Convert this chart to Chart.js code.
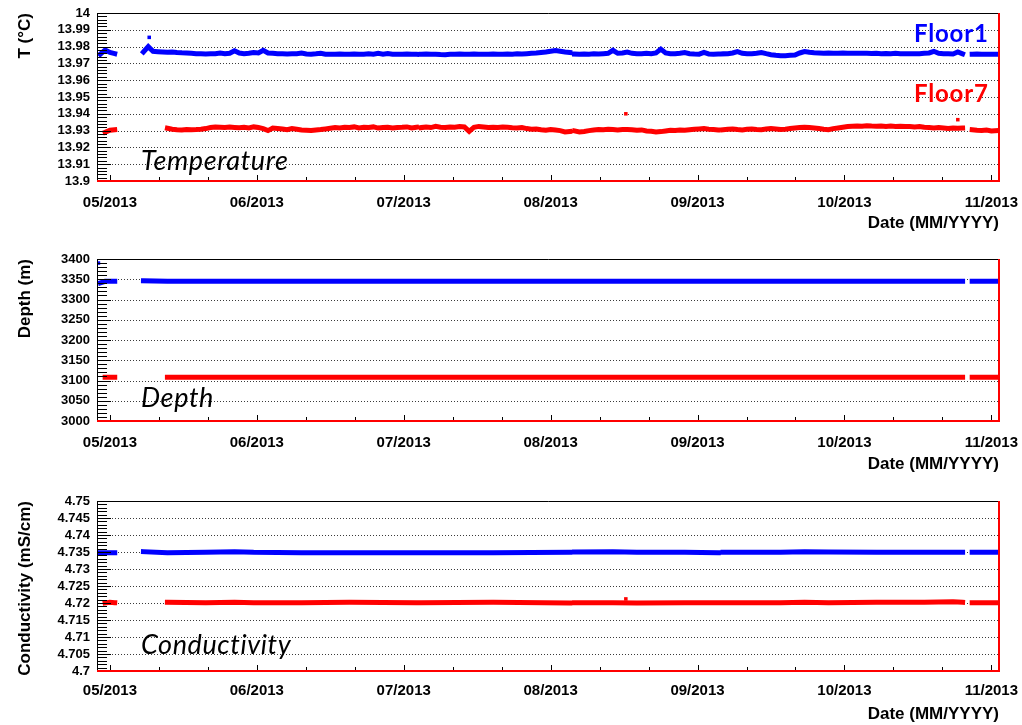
<!DOCTYPE html>
<html>
<head>
<meta charset="utf-8">
<script src="https://cdn.jsdelivr.net/npm/chart.js@4.4.0/dist/chart.umd.min.js"></script>
<style>
  body { margin: 0; background: #fff; width: 1022px; height: 725px; overflow: hidden; position: relative; }
  canvas { position: absolute; left: 0; }
</style>
</head>
<body>
<canvas id="cTemp" width="1022" height="240" style="top:0px"></canvas>
<canvas id="cDepth" width="1022" height="240" style="top:240px"></canvas>
<canvas id="cCond" width="1022" height="250" style="top:480px"></canvas>
<script>
// x axis: days counted from 1 May 2013, ROOT puts ticks at equal steps
var monthDays = [0, 30.667, 61.333, 92, 122.667, 153.333, 184];
var monthLabels = ['05/2013', '06/2013', '07/2013', '08/2013', '09/2013', '10/2013', '11/2013'];

// temperature, one value per day from day -2 to day 185
var tempFloor1 = [
  13.9755, 13.9780, 13.9765, 13.9758, null, null, null, null, null, 13.9768,
  13.9800, 13.9772, 13.9770, 13.9768, 13.9766, 13.9768, 13.9765, 13.9763, 13.9762, 13.9760,
  13.9758, 13.9757, 13.9756, 13.9757, 13.9758, 13.9762, 13.9757, 13.9760, 13.9775, 13.9762,
  13.9758, 13.9760, 13.9765, 13.9762, 13.9778, 13.9762, 13.9760, 13.9758, 13.9757, 13.9756,
  13.9757, 13.9758, 13.9762, 13.9756, 13.9755, 13.9757, 13.9760, 13.9755, 13.9754, 13.9755,
  13.9756, 13.9755, 13.9754, 13.9756, 13.9755, 13.9755, 13.9757, 13.9755, 13.9760, 13.9755,
  13.9759, 13.9755, 13.9754, 13.9755, 13.9756, 13.9755, 13.9754, 13.9755, 13.9756, 13.9754,
  13.9755, 13.9753, 13.9752, 13.9754, 13.9755, 13.9756, 13.9754, 13.9755, 13.9756, 13.9755,
  13.9754, 13.9755, 13.9756, 13.9755, 13.9754, 13.9756, 13.9755, 13.9757, 13.9756, 13.9758,
  13.9760, 13.9762, 13.9765, 13.9768, 13.9772, 13.9776, 13.9772, 13.9768, 13.9765, 13.9756,
  13.9755, 13.9756, 13.9755, 13.9757, 13.9756, 13.9758, 13.9760, 13.9778, 13.9760, 13.9762,
  13.9768, 13.9760, 13.9758, 13.9757, 13.9760, 13.9758, 13.9762, 13.9785, 13.9762, 13.9758,
  13.9757, 13.9760, 13.9765, 13.9758, 13.9756, 13.9755, 13.9765, 13.9756, 13.9755, 13.9756,
  13.9757, 13.9758, 13.9762, 13.9770, 13.9760, 13.9757, 13.9758, 13.9760, 13.9765, 13.9758,
  13.9752, 13.9748, 13.9745, 13.9746, 13.9748, 13.9750, 13.9762, 13.9770, 13.9766, 13.9763,
  13.9762, 13.9761, 13.9762, 13.9760, 13.9761, 13.9762, 13.9760, 13.9761, 13.9760, 13.9761,
  13.9760, 13.9759, 13.9760, 13.9758, 13.9759, 13.9758, 13.9760, 13.9758, 13.9757, 13.9758,
  13.9757, 13.9758, 13.9760, 13.9762, 13.9772, 13.9760, 13.9757, 13.9758, 13.9756, 13.9768,
  13.9757, null, 13.9755, 13.9756, 13.9755, 13.9754, 13.9755, 13.9755
];
var tempFloor7 = [
  null, 13.9290, 13.9302, 13.9305, null, null, null, null, null, null,
  null, null, null, null, 13.9314, 13.9308, 13.9305, 13.9304, 13.9306, 13.9305,
  13.9306, 13.9308, 13.9312, 13.9318, 13.9322, 13.9320, 13.9318, 13.9321, 13.9319, 13.9317,
  13.9320, 13.9316, 13.9322, 13.9318, 13.9312, 13.9300, 13.9315, 13.9313, 13.9310, 13.9305,
  13.9312, 13.9308, 13.9304, 13.9302, 13.9300, 13.9304, 13.9306, 13.9310, 13.9314, 13.9318,
  13.9315, 13.9320, 13.9318, 13.9322, 13.9316, 13.9320, 13.9318, 13.9322, 13.9315, 13.9318,
  13.9320, 13.9316, 13.9319, 13.9320, 13.9322, 13.9316, 13.9320, 13.9318, 13.9322, 13.9318,
  13.9325, 13.9320, 13.9318, 13.9322, 13.9320, 13.9324, 13.9322, 13.9295, 13.9320, 13.9325,
  13.9322, 13.9318, 13.9320, 13.9318, 13.9322, 13.9320, 13.9317, 13.9315, 13.9318, 13.9312,
  13.9308, 13.9310, 13.9305, 13.9302, 13.9306, 13.9303, 13.9300, 13.9292, 13.9295, 13.9298,
  13.9292, 13.9295, 13.9300, 13.9304, 13.9306, 13.9305, 13.9308, 13.9306, 13.9304, 13.9307,
  13.9306, 13.9305, 13.9302, 13.9304, 13.9298, 13.9296, 13.9292, 13.9294, 13.9298, 13.9302,
  13.9300, 13.9304, 13.9302, 13.9305, 13.9308, 13.9310, 13.9312, 13.9308, 13.9306, 13.9304,
  13.9305, 13.9308, 13.9310, 13.9306, 13.9304, 13.9308, 13.9310, 13.9307, 13.9305, 13.9309,
  13.9312, 13.9310, 13.9306, 13.9308, 13.9312, 13.9315, 13.9318, 13.9320, 13.9318, 13.9315,
  13.9312, 13.9308, 13.9305, 13.9312, 13.9316, 13.9320, 13.9324, 13.9326, 13.9328, 13.9326,
  13.9329, 13.9327, 13.9326, 13.9328, 13.9325, 13.9327, 13.9325, 13.9326, 13.9324, 13.9325,
  13.9322, 13.9324, 13.9320, 13.9318, 13.9316, 13.9318, 13.9315, 13.9312, 13.9316, 13.9314,
  13.9315, null, 13.9305, 13.9302, 13.9300, 13.9303, 13.9298, 13.9300
];
var tempFirstDay = -2;
var tempBreaks = [64.5, 96.5, 127.5];
var tempOutDays1 = [8.2];
var tempOut1 = [13.9855];
var tempOutDays7 = [107.7, 177];
var tempOut7 = [13.9400, 13.9365];

// depth
var depthDays = [-2, -1, 0, 1, 4, 7, 12, 30, 50, 64, 64.5, 65, 80, 96, 96.5, 97, 110, 127, 127.5, 128, 150, 178, 179, 180, 185];
var depthFloor1 = [3341, 3345, 3345, 3345, null, 3346, 3345, 3345, 3345, 3345, null, 3345, 3345, 3345, null, 3345, 3345, 3345, null, 3345, 3345, 3345, null, 3345, 3345];
var depthFloor7 = [null, 3108, 3108, 3108, null, null, 3108, 3108, 3108, 3108, null, 3108, 3108, 3108, null, 3108, 3108, 3108, null, 3108, 3108, 3108, null, 3108, 3108];
var depthOutDays1 = [-2.4];
var depthOut1 = [3390];

// conductivity
var condDays = [-2, -1, 0, 1, 4, 7, 12, 20, 26, 30, 40, 50, 64, 64.5, 65, 80, 96, 96.5, 97, 105,
  110, 120, 127, 127.5, 128, 140, 145, 150, 160, 170, 176, 178, 179, 180, 185];
var condFloor1 = [4.7348, 4.7348, 4.7348, 4.7348, null, 4.7351, 4.7348, 4.7349, 4.7351, 4.7349,
  4.7348, 4.7348, 4.7348, null, 4.7348, 4.7348, 4.7349, null, 4.7350, 4.7351,
  4.7349, 4.7349, 4.7348, null, 4.7349, 4.7349, 4.7351, 4.7350, 4.7349, 4.7349,
  4.7349, 4.7349, null, 4.7349, 4.7349];
var condFloor7 = [null, 4.7200, 4.7202, 4.7201, null, null, 4.7202, 4.7201, 4.7202, 4.7201,
  4.7201, 4.7202, 4.7201, null, 4.7201, 4.7202, 4.7200, null, 4.7201, 4.7201,
  4.7200, 4.7201, 4.7201, null, 4.7201, 4.7201, 4.7202, 4.7201, 4.7202, 4.7202,
  4.7204, 4.7202, null, 4.7201, 4.7201];
var condOutDays7 = [107.7];
var condOut7 = [4.7212];

Chart.defaults.font.family = "'Liberation Sans', Arial, sans-serif";
Chart.defaults.color = '#000';

function daily(vals, first, breaks) {
  var pts = [];
  for (var i = 0; i < vals.length; i++) {
    var d = first + i;
    pts.push({ x: d, y: vals[i] });
    if (breaks.indexOf(d + 0.5) >= 0) pts.push({ x: d + 0.5, y: null });
  }
  return pts;
}
function pairs(xs, ys) {
  return xs.map(function (x, i) { return { x: x, y: ys[i] }; });
}

// ROOT style frame: dotted grid, inner ticks, coloured frame, inner labels
var rootFrame = {
  id: 'rootFrame',
  beforeDatasetsDraw: function (chart, args, o) {
    var ctx = chart.ctx, a = chart.chartArea, y = chart.scales.y;
    ctx.save();
    ctx.strokeStyle = '#3a3a3a';
    ctx.lineWidth = 1;
    ctx.setLineDash([1, 2]);
    y.ticks.forEach(function (t) {
      if (t.value <= y.min + 1e-9 || t.value >= y.max - 1e-9) return;
      var py = Math.round(y.getPixelForValue(t.value)) + 0.5;
      ctx.beginPath(); ctx.moveTo(a.left, py); ctx.lineTo(a.right, py); ctx.stroke();
    });
    ctx.restore();
  },
  afterDatasetsDraw: function (chart, args, o) {
    var ctx = chart.ctx, a = chart.chartArea, x = chart.scales.x, y = chart.scales.y;
    ctx.save();
    ctx.strokeStyle = '#000';
    ctx.lineWidth = 1;
    var n = Math.round((y.max - y.min) / o.minorY);
    for (var k = 0; k <= n; k++) {
      var py = Math.round(y.getPixelForValue(y.min + k * o.minorY)) + 0.5;
      var len = (k % 5 === 0) ? 14 : 10;
      ctx.beginPath(); ctx.moveTo(a.left, py); ctx.lineTo(a.left + len, py); ctx.stroke();
    }
    var step = (monthDays[1] - monthDays[0]) / 3;
    for (var j = 0; j <= 18; j++) {
      var v = monthDays[0] + j * step;
      if (v > x.max) break;
      var px = Math.round(x.getPixelForValue(v)) + 0.5;
      var l = (j % 3 === 0) ? 6 : 4;
      ctx.beginPath(); ctx.moveTo(px, a.bottom); ctx.lineTo(px, a.bottom - l); ctx.stroke();
    }
    // frame
    ctx.beginPath(); ctx.moveTo(a.left + 0.5, a.bottom); ctx.lineTo(a.left + 0.5, a.top + 0.5); ctx.lineTo(a.right, a.top + 0.5); ctx.stroke();
    ctx.strokeStyle = '#ff0000';
    ctx.lineWidth = 2;
    ctx.beginPath(); ctx.moveTo(a.right, a.top); ctx.lineTo(a.right, a.bottom); ctx.lineTo(a.left, a.bottom); ctx.stroke();
    // label inside the pad
    ctx.fillStyle = '#000';
    ctx.font = 'italic 27px Lato';
    ctx.letterSpacing = '0.6px';
    ctx.textBaseline = 'alphabetic';
    ctx.textAlign = 'left';
    ctx.fillText(o.label, a.left + 44, a.bottom - o.labelDrop);
    if (o.floors) {
      ctx.font = 'bold 24px Lato';
      ctx.letterSpacing = '0.8px';
      ctx.fillStyle = '#0000ff';
      ctx.fillText('Floor1', a.right - 85, a.top + 29);
      ctx.fillStyle = '#ff0000';
      ctx.fillText('Floor7', a.right - 85, a.top + 89);
    }
    ctx.restore();
  }
};

function lineSet(pts, color) {
  return { data: pts, borderColor: color, backgroundColor: color, borderWidth: 5, pointRadius: 0,
    spanGaps: false, tension: 0, borderCapStyle: 'square', borderJoinStyle: 'miter' };
}
function dotSet(pts, color) {
  return { data: pts, borderColor: color, backgroundColor: color, showLine: false,
    pointStyle: 'rect', pointRadius: 2.5, borderWidth: 0 };
}

function makePanel(id, p) {
  return new Chart(document.getElementById(id), {
    type: 'line',
    data: { datasets: p.sets },
    options: {
      responsive: false,
      animation: false,
      devicePixelRatio: 1,
      layout: { padding: { top: p.top, right: 23, left: 0, bottom: 0 } },
      plugins: {
        legend: { display: false },
        tooltip: { enabled: false },
        rootFrame: { minorY: p.minor, label: p.label, labelDrop: p.labelDrop, floors: p.floors }
      },
      scales: {
        x: {
          type: 'linear', min: -2.7, max: 185.6,
          afterBuildTicks: function (s) { s.ticks = monthDays.map(function (v) { return { value: v }; }); },
          afterFit: function (s) { s.height = 59; s.paddingLeft = 0; s.paddingRight = 0; },
          grid: { display: false, drawTicks: false },
          border: { display: false },
          ticks: { autoSkip: false, maxRotation: 0, padding: p.tickPad,
            font: { size: 15, weight: 'bold' },
            callback: function (v, i) { return monthLabels[i]; } },
          title: { display: true, text: 'Date (MM/YYYY)', align: 'end',
            font: { size: 17, weight: 'bold' }, padding: { top: 0, bottom: p.titlePad } }
        },
        y: {
          type: 'linear', min: p.min, max: p.max,
          afterFit: function (s) { s.width = 97; s.paddingTop = 0; s.paddingBottom = 0; },
          grid: { display: false, drawTicks: false },
          border: { display: false },
          ticks: { stepSize: p.step, autoSkip: false, padding: 7,
            font: { size: 13, weight: 'bold' },
            callback: function (v) { return String(parseFloat(v.toFixed(4))); } },
          title: { display: true, text: p.title, align: 'end',
            font: { size: 17, weight: 'bold' }, padding: { top: 15, bottom: 0 } }
        }
      }
    },
    plugins: [rootFrame]
  });
}

makePanel('cTemp', {
  top: 13, min: 13.9, max: 14, step: 0.01, minor: 0.002, title: 'T (°C)',
  label: 'Temperature', labelDrop: 11, floors: true, tickPad: 13, titlePad: 6,
  sets: [
    lineSet(daily(tempFloor1, tempFirstDay, tempBreaks), '#0000ff'),
    lineSet(daily(tempFloor7, tempFirstDay, tempBreaks), '#ff0000'),
    dotSet(pairs(tempOutDays1, tempOut1), '#0000ff'),
    dotSet(pairs(tempOutDays7, tempOut7), '#ff0000')
  ]
});
makePanel('cDepth', {
  top: 19, min: 3000, max: 3400, step: 50, minor: 10, title: 'Depth (m)',
  label: 'Depth', labelDrop: 14, floors: false, tickPad: 13, titlePad: 5,
  sets: [
    lineSet(pairs(depthDays, depthFloor1), '#0000ff'),
    lineSet(pairs(depthDays, depthFloor7), '#ff0000'),
    dotSet(pairs(depthOutDays1, depthOut1), '#0000ff')
  ]
});
makePanel('cCond', {
  top: 21, min: 4.7, max: 4.75, step: 0.005, minor: 0.001, title: 'Conductivity (mS/cm)',
  label: 'Conductivity', labelDrop: 17, floors: false, tickPad: 11, titlePad: 5,
  sets: [
    lineSet(pairs(condDays, condFloor1), '#0000ff'),
    lineSet(pairs(condDays, condFloor7), '#ff0000'),
    dotSet(pairs(condOutDays7, condOut7), '#ff0000')
  ]
});
</script>
</body>
</html>
